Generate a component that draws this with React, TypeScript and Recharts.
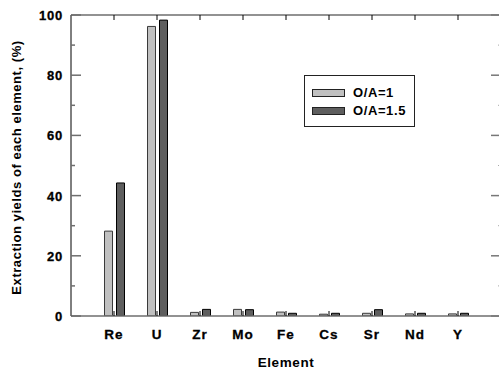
import React from 'react'
import { BarChart, Bar, XAxis, YAxis, Legend } from 'recharts'

const elements = ['Re', 'U', 'Zr', 'Mo', 'Fe', 'Cs', 'Sr', 'Nd', 'Y']
const yieldOA1 = [28.2, 96.2, 1.2, 2.2, 1.3, 0.6, 0.9, 0.7, 0.7]
const yieldOA15 = [44.2, 98.3, 2.2, 2.1, 0.9, 0.9, 2.1, 0.9, 0.9]
const yTicks = [0, 10, 20, 30, 40, 50, 60, 70, 80, 90, 100]

const data = elements.map((name, i) => ({
  name,
  oa1: yieldOA1[i],
  oa15: yieldOA15[i],
}))

const FONT = '"Liberation Sans", Arial, sans-serif'
const AXIS_GREY = '#6e6e6e'

// left ticks: major every 20 with label, minor every 10, all drawn inward
const LeftTick = (props: any) => {
  const x = Number(props.x)
  const y = Number(props.y)
  const major = props.payload.value % 20 === 0
  return (
    <g>
      <line x1={x} x2={x + (major ? 10 : 4)} y1={y} y2={y} stroke={AXIS_GREY} strokeWidth={1.5} />
      {major && (
        <text
          x={x - 8}
          y={y + 5}
          textAnchor="end"
          fontFamily={FONT}
          fontWeight="bold"
          fontSize={13}
          letterSpacing={0.8}
          stroke="#000"
          strokeWidth={0.3}
          fill="#000"
        >
          {props.payload.value}
        </text>
      )}
    </g>
  )
}

const RightTick = (props: any) => {
  const x = Number(props.x)
  const y = Number(props.y)
  const major = props.payload.value % 20 === 0
  return (
    <line
      x1={x}
      x2={x - (major ? 10 : 3)}
      y1={y}
      y2={y}
      stroke={major ? '#777' : '#aaa'}
      strokeWidth={major ? 1.5 : 1}
    />
  )
}

const BottomTick = (props: any) => {
  const x = Number(props.x)
  const y = Number(props.y)
  return (
    <g>
      <line x1={x} x2={x} y1={y} y2={y - 5} stroke="#000" strokeWidth={1} />
      <text
        x={x}
        y={y + 23}
        textAnchor="middle"
        fontFamily={FONT}
        fontWeight="bold"
        fontSize={13.5}
        letterSpacing={1}
        stroke="#000"
        strokeWidth={0.3}
        fill="#000"
      >
        {props.payload.value}
      </text>
    </g>
  )
}

const TopTick = (props: any) => {
  const x = Number(props.x)
  const y = Number(props.y)
  return <line x1={x} x2={x} y1={y} y2={y + 5} stroke="#000" strokeWidth={1} />
}

const YLabel = (props: any) => {
  const { viewBox } = props
  const cx = viewBox.x + 21
  const cy = viewBox.y + viewBox.height / 2 + 2
  return (
    <text
      x={cx}
      y={cy}
      transform={`rotate(-90 ${cx} ${cy})`}
      textAnchor="middle"
      fontFamily={FONT}
      fontWeight="bold"
      fontSize={13}
      letterSpacing={0.55}
      fill="#000"
    >
      Extraction yields of each element, (%)
    </text>
  )
}

const XLabel = (props: any) => {
  const { viewBox } = props
  return (
    <text
      x={viewBox.x + viewBox.width / 2}
      y={viewBox.y + 51}
      textAnchor="middle"
      fontFamily={FONT}
      fontWeight="bold"
      fontSize={13.5}
      letterSpacing={0.6}
      fill="#000"
    >
      Element
    </text>
  )
}

const LegendBox = (props: any) => {
  const items = (props.payload || []).filter((e: any) => e.type !== 'none')
  return (
    <div
      style={{
        boxSizing: 'border-box',
        width: 111,
        height: 52,
        border: '1px solid #222',
        background: '#fff',
        paddingTop: 8,
        paddingLeft: 7,
        fontFamily: FONT,
        fontWeight: 'bold',
        fontSize: 13,
        letterSpacing: 0.6,
        lineHeight: '18px',
      }}
    >
      {items.map((entry: any) => (
        <div key={entry.value} style={{ display: 'flex', alignItems: 'center', height: 18 }}>
          <span
            style={{
              boxSizing: 'border-box',
              display: 'inline-block',
              width: 33,
              height: 8,
              background: entry.color,
              border: '1px solid #222',
              marginRight: 8,
            }}
          />
          <span>{entry.value}</span>
        </div>
      ))}
    </div>
  )
}

export default function App() {
  return (
    <div style={{ position: 'absolute', left: 0, top: 0, width: 499, height: 374, overflow: 'hidden', background: '#fff' }}>
      <div style={{ width: 502, height: 374 }}>
        <BarChart
          width={502}
          height={374}
          data={data}
          margin={{ top: 14, right: 0, bottom: 0, left: 0 }}
          barSize={8}
          barGap={4}
        >
          <XAxis
            dataKey="name"
            height={58}
            padding={{ left: 21.5, right: 21.5 }}
            axisLine={{ stroke: AXIS_GREY, strokeWidth: 1.5 }}
            tickLine={false}
            tickSize={0}
            tickMargin={0}
            tick={<BottomTick />}
            interval={0}
            label={<XLabel />}
          />
          <XAxis
            xAxisId="top"
            orientation="top"
            dataKey="name"
            height={1}
            padding={{ left: 21.5, right: 21.5 }}
            axisLine={{ stroke: AXIS_GREY, strokeWidth: 1.5 }}
            tickLine={false}
            tickSize={0}
            tickMargin={0}
            tick={<TopTick />}
            interval={0}
          />
          <YAxis
            width={71}
            domain={[0, 100]}
            ticks={yTicks}
            interval={0}
            allowDataOverflow
            axisLine={{ stroke: '#000', strokeWidth: 1 }}
            tickLine={false}
            tickSize={0}
            tickMargin={0}
            tick={<LeftTick />}
            label={<YLabel />}
          />
          <YAxis
            yAxisId="right"
            orientation="right"
            width={1}
            domain={[0, 100]}
            ticks={yTicks}
            interval={0}
            allowDataOverflow
            axisLine={{ stroke: AXIS_GREY, strokeWidth: 1.5 }}
            tickLine={false}
            tickSize={0}
            tickMargin={0}
            tick={<RightTick />}
          />
          <Legend
            layout="horizontal"
            verticalAlign="middle"
            align="center"
            wrapperStyle={{ left: 304, top: 75, width: 111, height: 52 }}
            content={<LegendBox />}
          />
          <Bar dataKey="oa1" name="O/A=1" fill="#c0c0c0" stroke="#3a3a3a" strokeWidth={1} isAnimationActive={false} />
          <Bar dataKey="oa15" name="O/A=1.5" fill="#5e5e5e" stroke="#000" strokeWidth={1} isAnimationActive={false} />
          {/* transparent series so the top and right frame axes get a domain */}
          <Bar
            dataKey="oa1"
            xAxisId="top"
            yAxisId="right"
            fill="none"
            stroke="none"
            legendType="none"
            isAnimationActive={false}
          />
        </BarChart>
      </div>
    </div>
  )
}
